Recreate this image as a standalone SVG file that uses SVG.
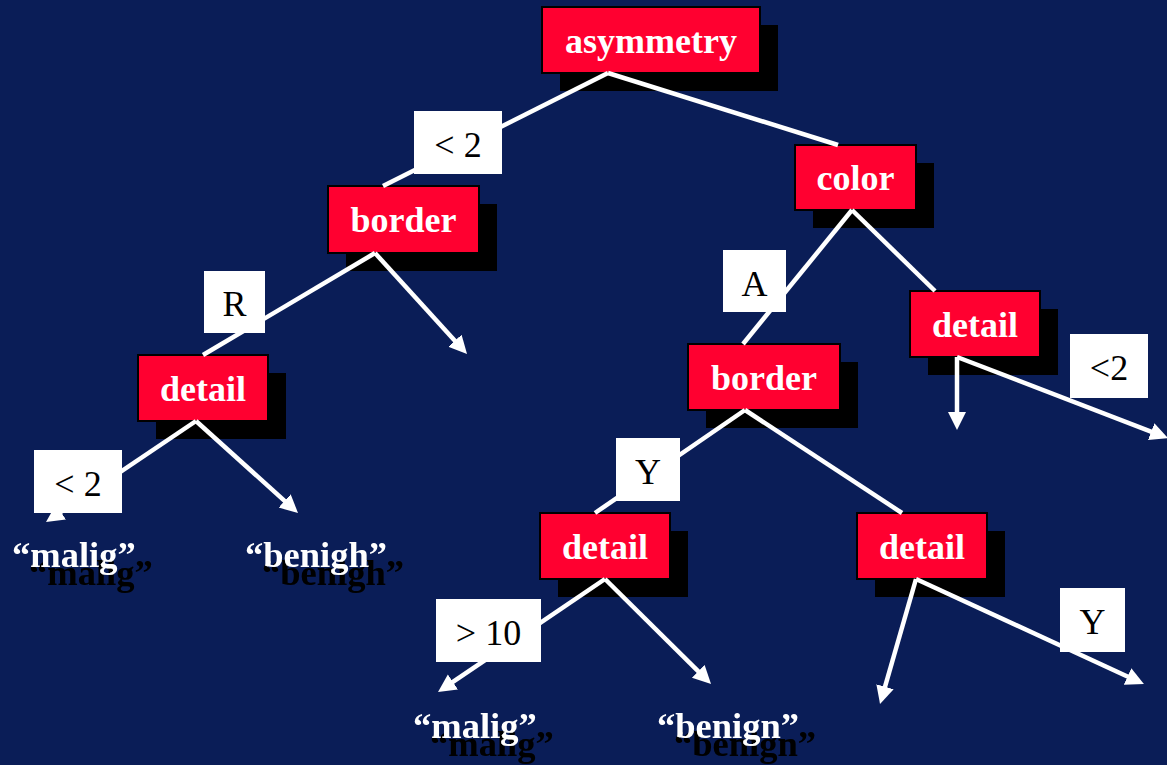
<svg xmlns="http://www.w3.org/2000/svg" width="1167" height="765" viewBox="0 0 1167 765">
<style>
.sh{fill:#000}
.nd{fill:#ff0030;stroke:#000;stroke-width:2}
.nt{font-family:"Liberation Serif",serif;font-weight:bold;font-size:36px;fill:#fff;text-anchor:middle}
.ln{stroke:#fff;stroke-width:4.5;fill:none}
.lb{fill:#fff}
.lt{font-family:"Liberation Serif",serif;font-size:36px;fill:#000;text-anchor:middle}
.lf{font-family:"Liberation Serif",serif;font-weight:bold;font-size:36.5px;fill:#fff;filter:url(#ds)}
</style>
<defs>
<marker id="ah" markerUnits="userSpaceOnUse" markerWidth="20" markerHeight="20" refX="4" refY="9" orient="auto">
<path d="M0,0 L18,9 L0,18 z" fill="#fff"/>
</marker>
<filter id="ds" filterUnits="userSpaceOnUse" x="0" y="0" width="1167" height="765">
<feFlood flood-color="#000" result="f"/>
<feComposite in="f" in2="SourceAlpha" operator="in" result="c"/>
<feOffset in="c" dx="17" dy="18" result="o"/>
<feMerge><feMergeNode in="o"/><feMergeNode in="SourceGraphic"/></feMerge>
</filter>
</defs>
<rect width="1167" height="765" fill="#0a1d57"/>
<g id="nodes">
<g id="n-asymmetry"><rect class="sh" x="560" y="25" width="218" height="66"/><rect class="nd" x="542" y="7" width="218" height="66"/><text class="nt" x="651" y="53">asymmetry</text></g>
<g id="n-border1"><rect class="sh" x="346" y="204" width="151" height="67"/><rect class="nd" x="328" y="186" width="151" height="67"/><text class="nt" x="403.5" y="232">border</text></g>
<g id="n-color"><rect class="sh" x="813" y="163" width="121" height="65"/><rect class="nd" x="795" y="145" width="121" height="65"/><text class="nt" x="855.5" y="190">color</text></g>
<g id="n-detail1"><rect class="sh" x="156" y="373" width="130" height="66"/><rect class="nd" x="138" y="355" width="130" height="66"/><text class="nt" x="203" y="401">detail</text></g>
<g id="n-border2"><rect class="sh" x="706" y="362" width="152" height="66"/><rect class="nd" x="688" y="344" width="152" height="66"/><text class="nt" x="764" y="390">border</text></g>
<g id="n-detail2"><rect class="sh" x="928" y="309" width="130" height="66"/><rect class="nd" x="910" y="291" width="130" height="66"/><text class="nt" x="975" y="337">detail</text></g>
<g id="n-detail3"><rect class="sh" x="558" y="531" width="130" height="66"/><rect class="nd" x="540" y="513" width="130" height="66"/><text class="nt" x="605" y="559">detail</text></g>
<g id="n-detail4"><rect class="sh" x="875" y="531" width="130" height="66"/><rect class="nd" x="857" y="513" width="130" height="66"/><text class="nt" x="922" y="559">detail</text></g>
<g id="leaf-malig1"><text class="lf" x="12" y="567">“malig”</text></g>
<g id="leaf-benigh"><text class="lf" x="245" y="567">“benigh”</text></g>
<g id="leaf-malig2"><text class="lf" x="413" y="738">“malig”</text></g>
<g id="leaf-benign"><text class="lf" x="657" y="738">“benign”</text></g>
</g>
<g id="connectors">
<line class="ln" x1="608" y1="73" x2="383" y2="186"/>
<line class="ln" x1="608" y1="73" x2="838" y2="145"/>
<line class="ln" x1="375" y1="253" x2="203" y2="355"/>
<line class="ln" x1="375" y1="253" x2="457.6" y2="343.7" marker-end="url(#ah)"/>
<line class="ln" x1="852" y1="210" x2="743" y2="344"/>
<line class="ln" x1="852" y1="210" x2="935" y2="291"/>
<line class="ln" x1="196" y1="421" x2="57.6" y2="514.2" marker-end="url(#ah)"/>
<line class="ln" x1="196" y1="421" x2="287.6" y2="503.6" marker-end="url(#ah)"/>
<line class="ln" x1="745" y1="410" x2="595" y2="513"/>
<line class="ln" x1="745" y1="410" x2="902" y2="513"/>
<line class="ln" x1="605" y1="579" x2="449.6" y2="684.2" marker-end="url(#ah)"/>
<line class="ln" x1="605" y1="579" x2="701.1" y2="674.1" marker-end="url(#ah)"/>
<line class="ln" x1="916" y1="579" x2="883.9" y2="690.6" marker-end="url(#ah)"/>
<line class="ln" x1="916" y1="579" x2="1131.2" y2="678.2" marker-end="url(#ah)"/>
<line class="ln" x1="957" y1="357" x2="957" y2="416" marker-end="url(#ah)"/>
<line class="ln" x1="957" y1="357" x2="1154.9" y2="433.1" marker-end="url(#ah)"/>
</g>
<g id="labels">
<g id="l1"><rect class="lb" x="414" y="111" width="88" height="63"/><text class="lt" x="458" y="157">&lt; 2</text></g>
<g id="l2"><rect class="lb" x="204" y="271" width="61" height="62"/><text class="lt" x="234.5" y="316">R</text></g>
<g id="l3"><rect class="lb" x="723" y="250" width="63" height="62"/><text class="lt" x="754.5" y="296">A</text></g>
<g id="l4"><rect class="lb" x="1070" y="334" width="78" height="64"/><text class="lt" x="1109" y="380">&lt;2</text></g>
<g id="l5"><rect class="lb" x="34" y="450" width="88" height="63"/><text class="lt" x="78" y="496">&lt; 2</text></g>
<g id="l6"><rect class="lb" x="616" y="438" width="64" height="63"/><text class="lt" x="648" y="484">Y</text></g>
<g id="l7"><rect class="lb" x="436" y="599" width="105" height="63"/><text class="lt" x="488.5" y="645">&gt; 10</text></g>
<g id="l8"><rect class="lb" x="1060" y="588" width="65" height="64"/><text class="lt" x="1092.5" y="634">Y</text></g>
</g>
</svg>
